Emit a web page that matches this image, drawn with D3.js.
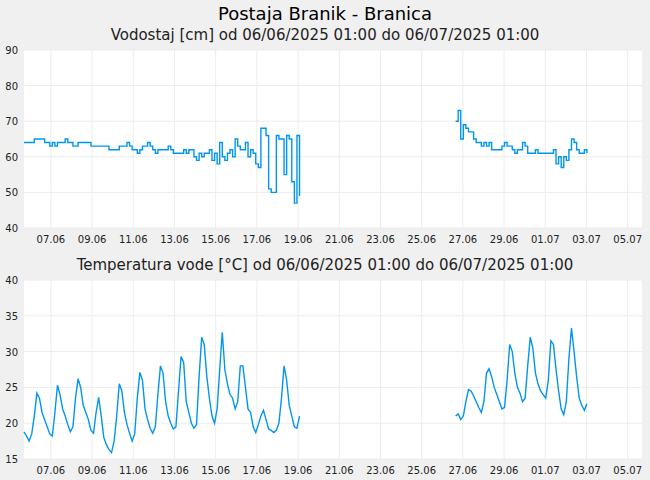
<!DOCTYPE html>
<html>
<head>
<meta charset="utf-8">
<script src="https://cdn.jsdelivr.net/npm/d3@7"></script>
<style>
  body { margin: 0; background: #f0f0f0; }
  svg { font-family: "DejaVu Sans", sans-serif; }
</style>
</head>
<body>
<div id="chart"></div>
<script>
// axis window and series start times (3 hour steps)
var domainStart = Date.UTC(2025, 5, 5, 16, 40);
var domainEnd = Date.UTC(2025, 6, 5, 16, 40);
var seg1Start = domainStart;
var seg2Start = Date.UTC(2025, 5, 26, 15, 30);
var stepMs = 3 * 3600 * 1000;

var levelSeg1 = [64,64,64,64,65,65,65,65,64,64,
  63,64,63,64,64,64,65,64,64,63,63,64,64,64,64,64,
  63,63,63,63,63,63,63,62,62,62,62,63,63,63,64,63,
  62,62,61,62,63,63,64,63,62,61,62,62,62,62,63,62,
  61,61,61,61,62,61,62,62,60,59,61,60,61,61,62,59,
  61,58,64,60,59,61,62,60,65,63,62,62,64,60,62,61,
  58,57,68,68,66,51,50,50,66,65,65,55,66,65,53,47,
  66,49];
var levelSeg2 = [70,73,65,69,68,67,67,65,64,64,63,64,63,64,62,62,62,62,63,64,
  63,63,62,61,62,62,64,63,61,61,61,62,61,61,61,61,61,61,62,58,
  60,57,60,59,62,65,64,62,61,61,62,61];

var tempSeg1 = [18.8,18.2,17.5,18.5,21,24.2,23.5,21.5,20.5,19.5,18.5,18.2,
  21.5,25.3,24,22,21,19.8,18.8,19.5,23.5,26.2,25,22.5,21.5,20.5,19,18.6,
  21.5,23.6,21,18,17,16.3,15.9,17.5,21,25.5,24.5,21.5,19.8,18.6,17.5,18.5,
  23.5,27.1,26,22,20.5,19.3,18.6,19.5,24,28,27,23,21,20,19.2,19.5,
  24.5,29.3,28.5,23,21.5,20,19.3,19.8,26.5,32,31,26.5,23.5,21,20,22,
  27.5,32.7,27.5,25.5,24,23.5,22,23,28,28,25,22,21.5,19.5,18.7,19.8,
  21,21.8,20.5,19.2,19,18.7,19,20,23.5,28,26,22.5,21,19.5,19.3,21];
var tempSeg2 = [21,21.3,20.5,21,23,24.7,24.5,23.8,23,22.2,21.5,23,27,27.6,26.5,25,
  24,23,22,22.2,26,31,30,27,25,24.2,23,23.5,28,32,30.5,27,25.5,24.5,24,23.5,
  26,31.5,31,27.5,24.5,22,21.2,23,29,33.3,30,26.5,23.5,22.5,21.8,22.7];

var levelTicks = [40,50,60,70,80,90];
var tempTicks = [15,20,25,30,35,40];

var W = 650, H = 480;
var svg = d3.select("#chart").append("svg").attr("width", W).attr("height", H);

svg.append("text").attr("x", W/2).attr("y", 20).attr("text-anchor", "middle")
  .style("font-size", "18px").style("fill", "#000").text("Postaja Branik - Branica");

function toPoints(vals, start) {
  return vals.map(function(v, i) { return {t: new Date(start + i*stepMs), v: v}; });
}

var x = d3.scaleUtc().domain([new Date(domainStart), new Date(domainEnd)]).range([24, 642]);

function panel(top, bottom, title, ticks, segs, curve) {
  var y = d3.scaleLinear().domain([ticks[0], ticks[ticks.length-1]]).range([bottom, top]);
  svg.append("text").attr("x", W/2).attr("y", top - 10).attr("text-anchor", "middle")
    .style("font-size", "15px").style("fill", "#222").text(title);
  svg.append("rect").attr("x", 24).attr("y", top).attr("width", 618).attr("height", bottom - top)
    .style("fill", "#fff");

  var xt = x.ticks(d3.utcDay.every(2));
  svg.append("g").selectAll("line").data(xt).enter().append("line")
    .attr("x1", function(d){ return x(d); }).attr("x2", function(d){ return x(d); })
    .attr("y1", top).attr("y2", bottom).style("stroke", "#ececec");
  svg.append("g").selectAll("line").data(ticks).enter().append("line")
    .attr("x1", 24).attr("x2", 642)
    .attr("y1", function(d){ return y(d); }).attr("y2", function(d){ return y(d); })
    .style("stroke", "#ececec");

  svg.append("g").selectAll("text").data(ticks).enter().append("text")
    .attr("x", 18).attr("y", function(d){ return y(d) + 4; }).attr("text-anchor", "end")
    .style("font-size", "10px").style("fill", "#222").text(function(d){ return d; });
  svg.append("g").selectAll("text").data(xt).enter().append("text")
    .attr("x", function(d){ return x(d); }).attr("y", bottom + 15).attr("text-anchor", "middle")
    .style("font-size", "10px").style("fill", "#222").text(d3.utcFormat("%d.%m"));

  var line = d3.line().x(function(d){ return x(d.t); }).y(function(d){ return y(d.v); })
    .curve(curve);
  segs.forEach(function(s) {
    svg.append("path").datum(s).attr("d", line)
      .style("fill", "none").style("stroke", "#0096f0").style("stroke-width", 1.4);
  });
}

panel(50, 228, "Vodostaj [cm] od 06/06/2025 01:00 do 06/07/2025 01:00", levelTicks,
  [toPoints(levelSeg1, seg1Start), toPoints(levelSeg2, seg2Start)], d3.curveStepAfter);
panel(280, 459, "Temperatura vode [°C] od 06/06/2025 01:00 do 06/07/2025 01:00", tempTicks,
  [toPoints(tempSeg1, seg1Start), toPoints(tempSeg2, seg2Start)], d3.curveLinear);
</script>
</body>
</html>
